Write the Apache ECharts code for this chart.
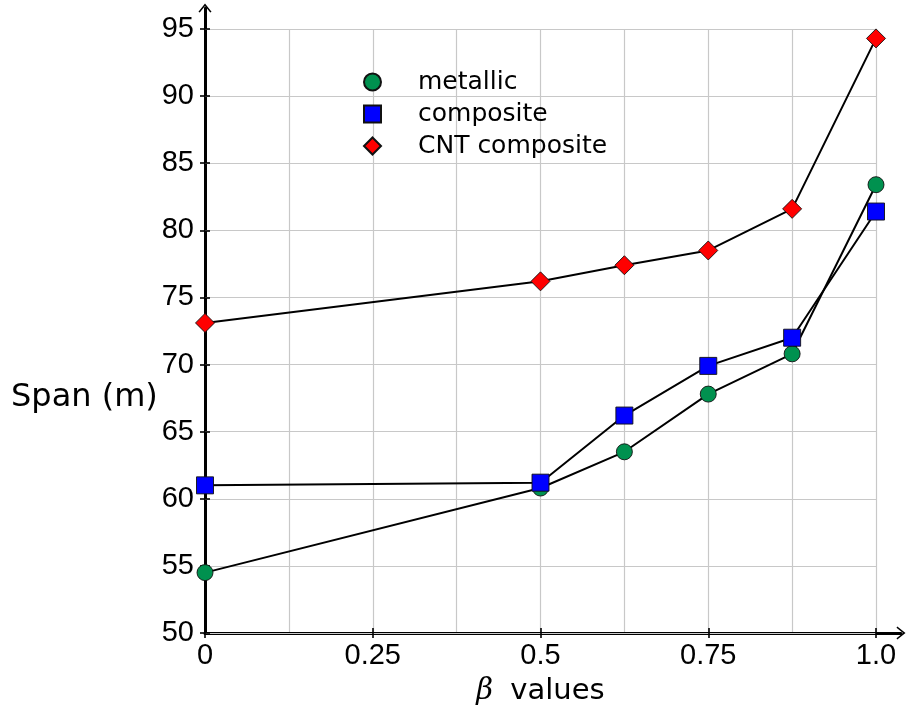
<!DOCTYPE html>
<html><head><meta charset="utf-8">
<script src="https://cdn.jsdelivr.net/npm/echarts@6/dist/echarts.min.js"></script>
<style>html,body{margin:0;padding:0;background:#fff}#c{width:906px;height:713px}</style>
</head><body><div id="c"></div>
<script>
const betas = [0, 0.5, 0.625, 0.75, 0.875, 1.0];
const metallic = [54.5, 60.8, 63.5, 67.8, 70.8, 83.4];
const composite = [61.0, 61.2, 66.2, 69.9, 72.0, 81.4];
const cnt = [73.1, 76.2, 77.4, 78.5, 81.6, 94.3];
const xTickLabels = ['0', '0.25', '0.5', '0.75', '1.0'];
const yTickLabels = ['50', '55', '60', '65', '70', '75', '80', '85', '90', '95'];
const seriesNames = ['metallic', 'composite', 'CNT composite'];

const NUMFONT = 'Liberation Sans';
const TXTFONT = 'DejaVu Sans';
const pairs = v => betas.map((b, i) => [b, v[i]]);
const arrowPath = 'path://M0,10 L8,0 L16,10 L14.4,11 L8,3 L1.6,11 Z';
const fmtX = v => { const s = xTickLabels.find(t => Math.abs(parseFloat(t) - v) < 1e-9); return s === undefined ? '' : s; };
const fmtY = v => { const s = yTickLabels.find(t => Math.abs(parseFloat(t) - v) < 1e-9); return s === undefined ? '' : s; };

const chart = echarts.init(document.getElementById('c'), null, {renderer: 'canvas'});
const mk = (name, data, symbol, size, color) => ({
  name, type: 'line', xAxisIndex: 1, yAxisIndex: 1, data: pairs(data),
  symbol, symbolSize: size, showSymbol: true,
  lineStyle: {color: '#000', width: 2},
  itemStyle: {color, borderColor: '#111', borderWidth: 0.9},
  z: 5, animation: false
});
const hiddenAxisParts = {axisLine: {show: false}, axisLabel: {show: false}, splitLine: {show: false}};
const tick = inside => ({show: true, inside, length: 5, lineStyle: {color: '#000', width: 1.6}});
chart.setOption({
  animation: false,
  title: {text: 'Span (m)', left: 6, top: 377,
    textStyle: {fontFamily: TXTFONT, fontSize: 32, fontWeight: 'normal', color: '#000'}},
  legend: {
    orient: 'vertical', left: 358, top: 64, itemWidth: 17, itemHeight: 17, itemGap: 6,
    data: [
      {name: seriesNames[0], icon: 'circle'},
      {name: seriesNames[1], icon: 'rect'},
      {name: seriesNames[2], icon: 'diamond'}
    ],
    textStyle: {fontFamily: TXTFONT, fontSize: 25, lineHeight: 26, color: '#000', padding: [0, 0, 0, 32]}
  },
  grid: [
    {left: 205, top: 8, right: 5, bottom: 80, containLabel: false, outerBoundsMode: 'none'},
    {left: 205, top: 29, width: 671, height: 604, containLabel: false, outerBoundsMode: 'none'}
  ],
  xAxis: [
    {gridIndex: 0, type: 'value', min: 0, max: 1.037, position: 'bottom', offset: 0,
      axisLine: {show: true, onZero: false, lineStyle: {color: '#000', width: 3}, symbol: ['none', arrowPath], symbolSize: [16, 9], symbolOffset: [0, 0]},
      axisTick: {show: false}, axisLabel: {show: false}, splitLine: {show: false}, z: 3},
    {gridIndex: 1, type: 'value', min: 0, max: 1, interval: 0.125, position: 'bottom', offset: 0,
      axisLine: {show: false, onZero: false}, axisTick: {show: false}, axisLabel: {show: false},
      splitLine: {show: true, lineStyle: {color: '#c8c8c8', width: 1.2}},
      name: '{b|β} values', nameLocation: 'middle', nameGap: 44,
      nameTextStyle: {fontSize: 29, color: '#000', fontFamily: TXTFONT,
        rich: {b: {fontFamily: 'DejaVu Serif', fontStyle: 'italic', fontSize: 29, color: '#000', padding: [0, 8, 0, 0]}}}
    },
    {gridIndex: 1, type: 'value', min: 0, max: 1, interval: 0.25, position: 'bottom', offset: 0,
      axisLine: {show: false, onZero: false}, splitLine: {show: false}, axisTick: tick(false),
      axisLabel: {show: true, fontSize: 29, color: '#000', fontFamily: NUMFONT, margin: 8, formatter: fmtX}, z: 4},
    {gridIndex: 1, type: 'value', min: 0, max: 1, interval: 0.25, position: 'bottom', offset: 0,
      ...hiddenAxisParts, axisTick: tick(true), z: 4}
  ],
  yAxis: [
    {gridIndex: 0, type: 'value', min: 50, max: 96.5, position: 'left', offset: 0,
      axisLine: {show: true, onZero: false, lineStyle: {color: '#000', width: 3}, symbol: ['none', arrowPath], symbolSize: [16, 9], symbolOffset: [0, 0]},
      axisTick: {show: false}, axisLabel: {show: false}, splitLine: {show: false}, z: 3},
    {gridIndex: 1, type: 'value', min: 50, max: 95, interval: 5, position: 'left', offset: 0,
      axisLine: {show: false, onZero: false}, axisTick: tick(false),
      axisLabel: {show: true, fontSize: 29, color: '#000', fontFamily: NUMFONT, margin: 11, formatter: fmtY},
      splitLine: {show: true, lineStyle: {color: '#c8c8c8', width: 1.2}}, z: 4
    },
    {gridIndex: 1, type: 'value', min: 50, max: 95, interval: 5, position: 'left', offset: 0,
      ...hiddenAxisParts, axisTick: tick(true), z: 4}
  ],
  series: [
    mk(seriesNames[0], metallic, 'circle', 16, '#00914f'),
    mk(seriesNames[1], composite, 'rect', 17, '#0000ff'),
    mk(seriesNames[2], cnt, 'diamond', 19, '#ff0000')
  ]
});
</script></body></html>
